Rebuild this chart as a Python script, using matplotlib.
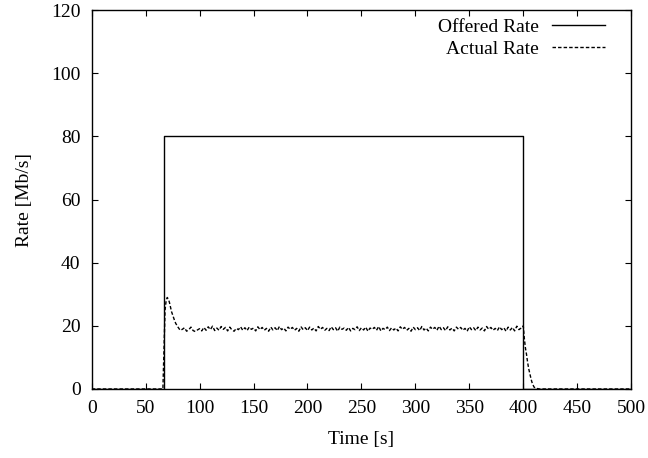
import numpy as np
import matplotlib.pyplot as plt

plt.rcParams['font.family'] = ['Liberation Serif', 'DejaVu Serif']

# Offered rate [Mb/s]
offered_t = [0, 67, 67, 400, 400, 500]
offered_r = [0, 0, 80, 80, 0, 0]

# Actual rate [Mb/s]: ramp-up, plateau (2 s steps), decay
ramp_t = [0, 66, 67, 68, 69, 70, 71, 72, 73, 74, 75, 76, 77, 78, 79]
ramp_r = [0, 0, 12, 25, 28, 29, 28.5, 27.5, 26, 24.5, 23.5, 22.5, 21.5, 20.7, 20.2]

plateau_t = list(range(80, 401, 2))
plateau_r = [19.6, 18.6, 18.9, 19.4, 18.3, 18.8, 19.6, 18.5, 18.2, 18.7,
             19.1, 18.4, 19.5, 18.6, 19.7, 18.8, 19.9, 18.5, 19.3, 18.6,
             19.8, 18.9, 19.5, 18.4, 19.6, 18.7, 18.3, 19.2, 18.8, 19.7,
             18.6, 19.4, 18.5, 19.6, 18.9, 19.3, 18.4, 19.7, 18.8, 19.5,
             18.6, 19.2, 18.3, 19.6, 18.7, 19.4, 18.5, 19.8, 18.8, 19.3,
             18.4, 19.6, 18.9, 19.5, 18.6, 19.2, 18.3, 19.7, 18.8, 19.4,
             18.5, 19.6, 18.7, 19.3, 18.4, 19.8, 18.9, 19.5, 18.6, 19.2,
             18.5, 19.7, 18.8, 19.4, 18.3, 19.6, 18.9, 19.3, 18.6, 19.5,
             18.4, 19.2, 18.8, 19.7, 18.5, 19.4, 18.7, 19.6, 18.3, 19.3,
             18.9, 19.5, 18.6, 19.8, 18.4, 19.2, 18.8, 19.6, 18.5, 19.4,
             18.7, 19.3, 18.4, 19.7, 18.9, 19.5, 18.6, 19.2, 18.3, 19.6,
             18.8, 19.4, 18.5, 19.8, 18.7, 19.3, 18.4, 19.6, 18.9, 19.5,
             18.6, 19.9, 18.8, 19.4, 18.5, 19.7, 18.7, 19.3, 18.4, 19.6,
             18.9, 19.5, 18.6, 19.2, 18.3, 19.7, 18.8, 19.4, 18.5, 19.6,
             18.7, 19.3, 18.4, 19.8, 18.9, 19.5, 18.6, 19.2, 18.5, 19.7,
             18.8, 19.4, 18.3, 19.6, 18.7, 19.5, 18.4, 19.9, 18.8, 19.3,
             20.0]

decay_t = [401, 402, 403, 404, 405, 406, 407, 408, 409, 410, 412, 415, 500]
decay_r = [16, 13, 11, 8.5, 6.5, 5, 3.5, 2.2, 1.3, 0.6, 0.2, 0, 0]

actual_t = ramp_t + plateau_t + decay_t
actual_r = ramp_r + plateau_r + decay_r

fig = plt.figure(figsize=(6.48, 4.58), dpi=100)
ax = fig.add_axes([0.1415, 0.1507, 0.8325, 0.827])

ax.plot(offered_t, offered_r, '-', color='k', lw=1.0, label='Offered Rate')
ax.plot(actual_t, actual_r, color='k', lw=1.0, dashes=(2.5, 1.5),
        label='Actual Rate')

ax.set_xlim(0, 500)
ax.set_ylim(0, 120)
ax.set_xticks(np.arange(0, 501, 50))
ax.set_yticks(np.arange(0, 121, 20))
ax.tick_params(direction='in', top=True, right=True, length=4, width=0.8,
               labelsize=14, pad=8)
for s in ax.spines.values():
    s.set_linewidth(1.0)

ax.set_xlabel('Time [s]', fontsize=14, labelpad=10)
ax.set_ylabel('Rate [Mb/s]', fontsize=14, labelpad=13)

ax.legend(loc='upper right', frameon=False, markerfirst=False, fontsize=14,
          handlelength=2.7, handletextpad=0.7, labelspacing=0.2,
          borderpad=0, borderaxespad=0, bbox_to_anchor=(0.951, 0.978))

plt.savefig('out.png', dpi=100)
